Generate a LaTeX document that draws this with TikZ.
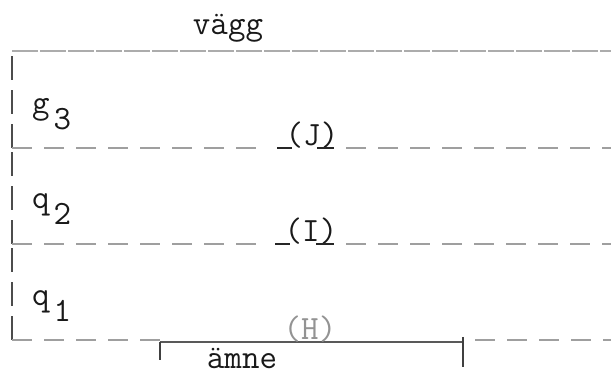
\documentclass[tikz,border=0pt]{standalone}
\usepackage{fontspec}
\usetikzlibrary{calc}

\tikzset{
  wall/.style={gray!65, line width=2.4pt, dash pattern=on 26pt off 2pt},
  level/.style={gray!75, line width=1.3pt, dash pattern=on 20pt off 12pt},
  side/.style={black!70, line width=1.2pt, dash pattern=on 24pt off 10pt},
  under/.style={black!85, line width=1.3pt},
  bar/.style={black!65, line width=2.6pt},
  txt/.style={inner sep=0pt, anchor=base, text=black!90,
    font=\ttfamily\fontsize{34}{40}\selectfont\addfontfeature{FakeBold=0.8}},
}
\newcommand{\lowsub}[1]{\hspace{4pt}\raisebox{-16pt}{#1}}

\begin{document}
\begin{tikzpicture}[x=1pt, y=-1pt]
  \useasboundingbox (0,0) rectangle (611,374);

  % wall and the three level lines
  \coordinate (W0) at (12,51);  \coordinate (W1) at (611,51);
  \coordinate (J0) at (12,148); \coordinate (J1) at (611,148);
  \coordinate (I0) at (12,244); \coordinate (I1) at (611,244);
  \coordinate (H0) at (12,340); \coordinate (H1) at (611,340);

  \draw[wall] (W0) -- (W1);
  \node[txt] (vagg) at (228,35) {vägg};

  % left side, drawn upwards from each corner
  \draw[side] (J0) -- (W0);
  \draw[side] (I0) -- (J0);
  \draw[side] (H0) -- (I0);

  % level J
  \node[txt] (J) at (312,146) {(J)};
  \coordinate (Ja) at (266,148); \coordinate (Jb) at (277,148);
  \coordinate (Jc) at (292,148); \coordinate (Jd) at (317,148);
  \coordinate (Je) at (334,148);
  \draw[level] (J0) -- (Ja);
  \draw[under] (Jb) -- (Jc);
  \draw[under] (Jd) -- (Je);
  \draw[level, dash phase=20pt] (Je) -- (J1);

  % level I
  \node[txt] (I) at (311,242) {(I)};
  \coordinate (Ia) at (264,244); \coordinate (Ib) at (275,244);
  \coordinate (Ic) at (290,244); \coordinate (Id) at (316,244);
  \coordinate (Ie) at (334,244);
  \draw[level] (I0) -- (Ia);
  \draw[under] (Ib) -- (Ic);
  \draw[under] (Id) -- (Ie);
  \draw[level, dash phase=20pt] (Ie) -- (I1);

  % level H with the sample bar
  \coordinate (A0) at (160,342); \coordinate (A1) at (463,342);
  \coordinate (A2) at (160,360); \coordinate (A3) at (463,367);
  \coordinate (A4) at (463,337);
  \draw[level] (H0) -- (A0 |- H0);
  \draw[level, dash phase=20pt] (A1 |- H0) -- (H1);
  \draw[bar] (A0) -- (A1);
  \draw[black!75, line width=1.4pt] (A0) -- (A2);
  \draw[black!75, line width=1.4pt] (A4) -- (A3);
  \node[txt, text=gray!85] (H) at (310,339) {(H)};
  \node[txt] (amne) at (242,368) {ämne};

  % heat flow labels
  \node[txt, anchor=base west] (g3) at (32,114) {g\lowsub{3}};
  \node[txt, anchor=base west] (q2) at (32,209) {q\lowsub{2}};
  \node[txt, anchor=base west] (q1) at (32,306) {q\lowsub{1}};
\end{tikzpicture}
\end{document}
